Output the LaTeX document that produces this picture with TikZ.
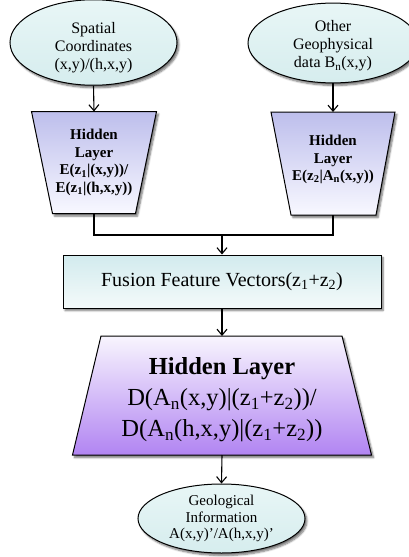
\documentclass[tikz,border=0pt]{standalone}
\usepackage{fontspec}
\setmainfont{Liberation Serif}
\usetikzlibrary{shapes.geometric,arrows.meta,shadows,shadows.blur,calc}

\definecolor{ovaltop}{HTML}{E8F6F6}
\definecolor{ovalbot}{HTML}{D6EDEE}
\definecolor{lavtop}{HTML}{BDBEEC}
\definecolor{lavbot}{HTML}{F8F8FF}
\definecolor{fustop}{HTML}{D2EBEE}
\definecolor{fusbot}{HTML}{F4FAFA}
\definecolor{purtop}{HTML}{F8F5FE}
\definecolor{purbot}{HTML}{B184F2}

\pgfdeclarelayer{background}
\pgfsetlayers{background,main}

\begin{document}
\begin{tikzpicture}[x=1pt,y=-1pt,
  sh/.style={blur shadow={shadow xshift=2pt,shadow yshift=-2.5pt,shadow blur steps=6,shadow opacity=55}},
  conn/.style={draw=black,line width=1.1pt},
  arr/.style={conn,-{Straight Barb[length=6pt,width=10pt,line width=1.1pt]}},
  oval/.style={ellipse,draw=black,line width=1pt,inner sep=0pt,align=center,
    top color=ovaltop,bottom color=ovalbot,sh},
  % text frame of a trapezoid; the outline itself is drawn behind it
  trapframe/.style={rectangle,inner sep=0pt,outer sep=0pt,align=center},
  trapline/.style={draw=black,line width=1pt,line join=miter,sh},
  enctext/.style={font=\fontsize{15}{17.6}\selectfont\bfseries},
  fusbox/.style={rectangle,draw=black,line width=1pt,inner sep=0pt,align=center,
    top color=fustop,bottom color=fusbot,sh,
    font=\fontsize{20}{22}\selectfont},
  dectext/.style={font=\fontsize{24.5}{31}\selectfont}
]
\useasboundingbox (0,0) rectangle (409,557);

% inputs
\node[oval,minimum width=167pt,minimum height=75pt,text height=57pt,font=\fontsize{16}{18}\selectfont]
  (spat) at (93.5,42.5) {Spatial\\Coordinates\\(x,y)/(h,x,y)};
\node[oval,minimum width=170pt,minimum height=76pt,text height=53pt,font=\fontsize{16}{18}\selectfont]
  (geo) at (333,43) {Other\\Geophysical\\data B\textsubscript{n}(x,y)};

% encoders (narrowing downwards)
\node[trapframe,enctext,minimum width=125pt,minimum height=102pt]
  (enc1) at (94,162.5)
  {Hidden\\Layer\\E(z\textsubscript{1}|(x,y))/\\E(z\textsubscript{1}|(h,x,y))};
\node[trapframe,enctext,minimum width=124pt,minimum height=103pt,text depth=11pt]
  (enc2) at (333,163.5)
  {Hidden\\Layer\\E(z\textsubscript{2}|A\textsubscript{n}(x,y))};

% fusion
\node[fusbox,minimum width=318pt,minimum height=53pt]
  (fus) at (222,281.5) {Fusion Feature Vectors(z\textsubscript{1}+z\textsubscript{2})};

% decoder (widening downwards)
\node[trapframe,dectext,minimum width=299pt,minimum height=119pt]
  (dec) at (222,395.5)
  {\\[-6pt]\textbf{Hidden Layer}\\D(A\textsubscript{n}(x,y)|(z\textsubscript{1}+z\textsubscript{2}))/\\D(A\textsubscript{n}(h,x,y)|(z\textsubscript{1}+z\textsubscript{2}))};

% output
\node[oval,minimum width=167pt,minimum height=69pt,font=\fontsize{15}{16.7}\selectfont]
  (out) at (221.5,518.5) {Geological\\Information\\A(x,y)’/A(h,x,y)’};

% trapezoid outlines behind their text
\begin{pgfonlayer}{background}
  \path[trapline,top color=lavtop,bottom color=lavbot]
    (enc1.north west) -- (enc1.north east)
    -- ($(enc1.south east)+(-21,0)$) -- ($(enc1.south west)+(21,0)$) -- cycle;
  \path[trapline,top color=lavtop,bottom color=lavbot]
    (enc2.north west) -- (enc2.north east)
    -- ($(enc2.south east)+(-19,0)$) -- ($(enc2.south west)+(20,0)$) -- cycle;
  \path[trapline,top color=purtop,bottom color=purbot]
    ($(dec.north west)+(28.5,0)$) -- ($(dec.north east)+(-29.5,0)$)
    -- (dec.south east) -- (dec.south west) -- cycle;
\end{pgfonlayer}

% connectors
\coordinate (join) at (222,235);
\draw[arr] (spat.south) -- (enc1.north);
\draw[arr] (geo.south) -- (enc2.north);
\draw[conn] (enc1.south) |- (join) -| (enc2.south);
\draw[arr] (join) -- (fus.north);
\draw[arr] (fus.south) -- (dec.north);
\draw[arr] (dec.south) -- (out.north);
\end{tikzpicture}
\end{document}
